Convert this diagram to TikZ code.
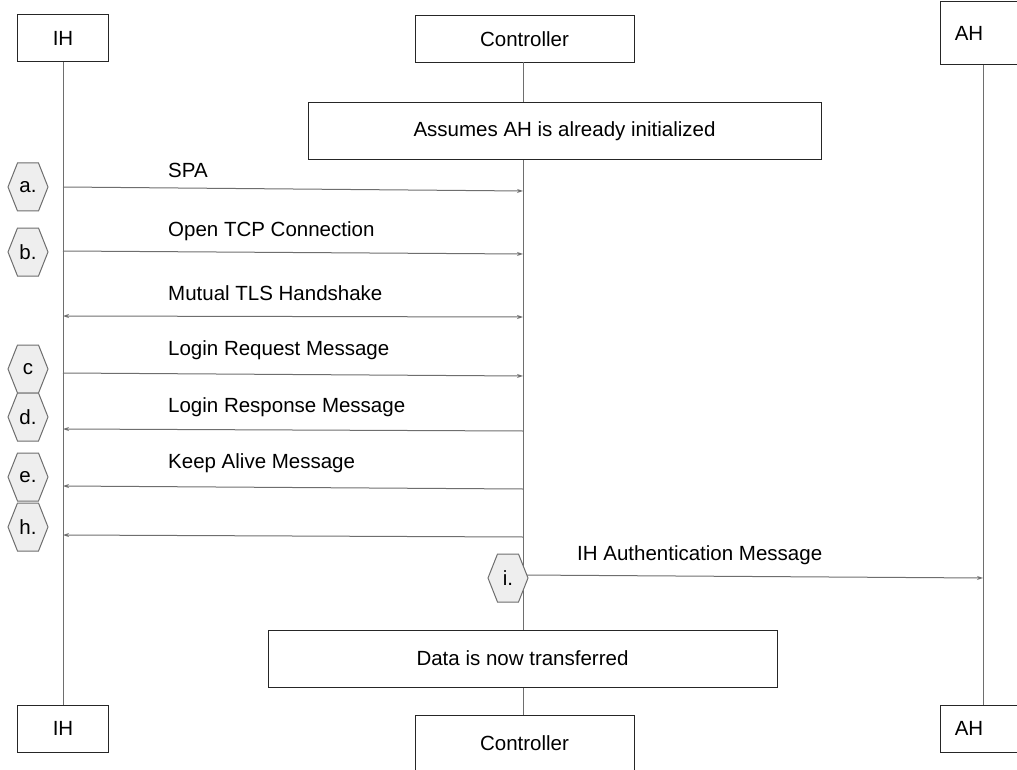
\documentclass[tikz,border=0pt]{standalone}
\usepackage{fontspec}
\setmainfont{Liberation Sans}
\usetikzlibrary{arrows.meta}
\definecolor{lineg}{HTML}{6E6E6E}
\definecolor{hexfill}{HTML}{EEEEEE}
\begin{document}
\begin{tikzpicture}[x=1pt,y=-1pt,
  actor/.style={draw=black!85,line width=1pt,fill=white,inner sep=0pt,font=\fontsize{20.5}{24}\selectfont},
  note/.style={draw=black!85,line width=1pt,fill=white,inner sep=0pt,font=\fontsize{20.5}{24}\selectfont},
  life/.style={draw=lineg,line width=1pt},
  msg/.style={draw=lineg,line width=1pt,-{Stealth[length=6pt,width=4pt]}},
  dmsg/.style={draw=lineg,line width=1pt,{Stealth[length=6pt,width=4pt]}-{Stealth[length=6pt,width=4pt]}},
  lbl/.style={font=\fontsize{20.5}{24}\selectfont,inner sep=0pt,anchor=west},
  hexlbl/.style={font=\fontsize{20.5}{24}\selectfont,inner sep=0pt}
]
\useasboundingbox (0,0) rectangle (1017,770);
% actor boxes
\node[actor,minimum width=91pt,minimum height=47pt] (ihT) at (63,38.5) {IH};
\node[actor,minimum width=219pt,minimum height=47pt] (ctT) at (524.5,39) {Controller};
\node[actor,minimum width=90pt,minimum height=63pt] (ahT) at (985,33.5) {\hspace*{-32pt}AH};
\node[actor,minimum width=91pt,minimum height=47pt] (ihB) at (63,728.5) {IH};
\node[actor,minimum width=219pt,minimum height=56pt] (ctB) at (524.5,743) {Controller};
\node[actor,minimum width=90pt,minimum height=47pt] (ahB) at (985,728.5) {\hspace*{-32pt}AH};
% lifelines
\coordinate (ihTop) at (63,62);
\coordinate (ihBot) at (63,705);
\coordinate (ctTop) at (523,62);
\coordinate (ctBot) at (523,715);
\coordinate (ahTop) at (983,65);
\coordinate (ahBot) at (983,705);
\draw[life] (ihTop) -- (ihBot);
\draw[life] (ctTop) -- (ctBot);
\draw[life] (ahTop) -- (ahBot);
% notes
\node[note,minimum width=513pt,minimum height=57pt] (n1) at (564.5,131.5) {Assumes AH is already initialized};
\node[note,minimum width=509pt,minimum height=57pt] (n2) at (522.5,658.5) {Data is now transferred};
% message endpoints
\coordinate (a1) at (63,187); \coordinate (a2) at (523,191);
\coordinate (b1) at (63,251); \coordinate (b2) at (523,254);
\coordinate (t1) at (63,316); \coordinate (t2) at (523,317);
\coordinate (c1) at (63,373); \coordinate (c2) at (523,376);
\coordinate (d1) at (63,429); \coordinate (d2) at (523,431);
\coordinate (e1) at (63,486); \coordinate (e2) at (523,489);
\coordinate (h1) at (63,535); \coordinate (h2) at (523,537);
\coordinate (i1) at (523,575); \coordinate (i2) at (983,578);
\draw[msg] (a1) -- (a2);
\draw[msg] (b1) -- (b2);
\draw[dmsg] (t1) -- (t2);
\draw[msg] (c1) -- (c2);
\draw[msg] (d2) -- (d1);
\draw[msg] (e2) -- (e1);
\draw[msg] (h2) -- (h1);
\draw[msg] (i1) -- (i2);
% labels
\node[lbl] (la) at (168,170) {SPA};
\node[lbl] (lb) at (168,231) {Open TCP Connection};
\node[lbl] (lt) at (168,293) {Mutual TLS Handshake};
\node[lbl] (lc) at (168,350) {Login Request Message};
\node[lbl] (ld) at (168,407) {Login Response Message};
\node[lbl] (le) at (168,463) {Keep Alive Message};
\node[lbl] (li) at (577,555) {IH Authentication Message};
% hexagons
\newcommand{\hexagon}[4]{%
  \draw[draw=lineg,line width=1pt,fill=hexfill]
    (#1-20,#2) -- (#1-10.5,#2-24) -- (#1+10.5,#2-24) -- (#1+20,#2) -- (#1+10.5,#2+24) -- (#1-10.5,#2+24) -- cycle;
  \node[hexlbl] (#4) at (#1,#2) {#3};}
\hexagon{28}{187}{a.}{ha}
\hexagon{28}{252}{b.}{hb}
\hexagon{28}{369}{c}{hc}
\hexagon{28}{417}{d.}{hd}
\hexagon{28}{477}{e.}{he}
\hexagon{28}{527}{h.}{hh}
\hexagon{508}{578}{i.}{hi}
\end{tikzpicture}
\end{document}
